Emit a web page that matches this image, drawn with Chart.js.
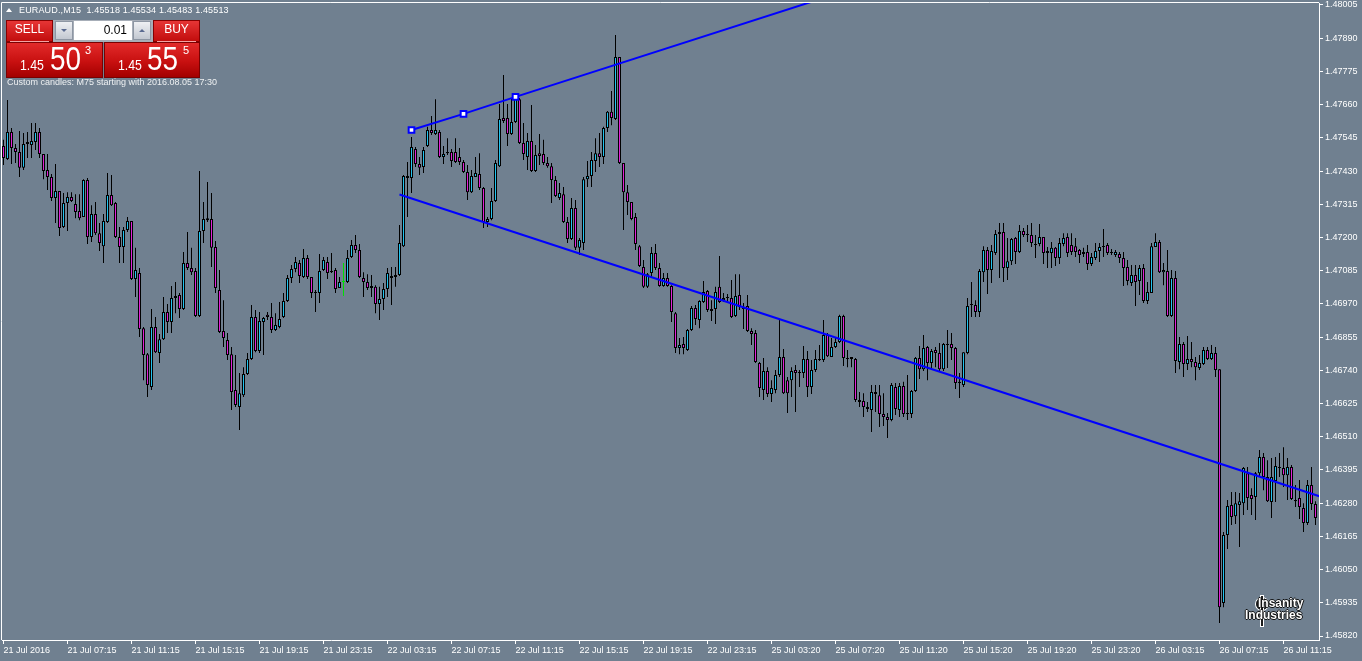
<!DOCTYPE html>
<html>
<head>
<meta charset="utf-8">
<title>EURAUD M15</title>
<script src="https://cdn.jsdelivr.net/npm/chart.js@4.4.1/dist/chart.umd.min.js"></script>
<style>
  html, body { margin:0; padding:0; background:#708090; overflow:hidden; }
  #wrap { position:relative; width:1362px; height:661px; background:#708090; }
  #chart { position:absolute; left:0; top:0; }
  .t { position:absolute; font-family:"Liberation Sans", Arial, sans-serif; white-space:nowrap; color:#fff; }
  .box { position:absolute; box-sizing:border-box; }
  .red { background:linear-gradient(#e63535, #c20d0d); border:1px solid #860000; }
  .big { background:linear-gradient(#e22a2a 0%, #c81010 55%, #a30000 100%); border:1px solid #7a0000; }
  .btn { background:linear-gradient(#eef0f3, #c3c8d1); border:1px solid #8d96a3; }
  .narrow { transform:scaleX(0.82); transform-origin:left top; }
  .mark { color:#fff; text-shadow:-1px 0 #111, 1px 0 #111, 0 -1px #111, 0 1px #111; font-weight:bold; }
</style>
</head>
<body>
<div id="wrap">
  <canvas id="chart" width="1362" height="661"></canvas>

  <!-- header -->
  <div class="box" style="left:6px;top:8px;width:0;height:0;border-left:3px solid transparent;border-right:3px solid transparent;border-bottom:4px solid #fff"></div>
  <div class="t" style="left:19px;top:5px;font-size:9px;line-height:11px;letter-spacing:0.15px">EURAUD.,M15&nbsp; 1.45518 1.45534 1.45483 1.45513</div>

  <!-- one click trading panel -->
  <div class="box red" style="left:6px;top:20px;width:47px;height:22px"></div>
  <div class="t" style="left:6px;top:23px;width:47px;text-align:center;font-size:12px;line-height:13px">SELL</div>
  <div class="box" style="left:10px;top:41px;width:39px;height:1px;background:#f3a3a3"></div>
  <div class="box" style="left:53px;top:20px;width:100px;height:22px;background:#a7aeb8"></div>
  <div class="box btn" style="left:55px;top:21px;width:18px;height:19px"></div>
  <div class="box" style="left:61px;top:29px;width:0;height:0;border-left:3px solid transparent;border-right:3px solid transparent;border-top:3px solid #5a6a90"></div>
  <div class="box" style="left:74px;top:21px;width:58px;height:19px;background:#fff"></div>
  <div class="t" style="left:74px;top:23px;width:53px;text-align:right;font-size:12px;line-height:14px;color:#000">0.01</div>
  <div class="box btn" style="left:133px;top:21px;width:18px;height:19px"></div>
  <div class="box" style="left:139px;top:29px;width:0;height:0;border-left:3px solid transparent;border-right:3px solid transparent;border-bottom:3px solid #5a6a90"></div>
  <div class="box red" style="left:153px;top:20px;width:47px;height:22px"></div>
  <div class="t" style="left:153px;top:23px;width:47px;text-align:center;font-size:12px;line-height:13px">BUY</div>
  <div class="box" style="left:157px;top:41px;width:39px;height:1px;background:#f3a3a3"></div>

  <div class="box big" style="left:6px;top:42px;width:97px;height:36px"></div>
  <div class="t narrow" style="left:20px;top:57px;font-size:15px;line-height:15px">1.45</div>
  <div class="t narrow" style="left:50px;top:41px;font-size:34px;line-height:34px">50</div>
  <div class="t" style="left:85px;top:45px;font-size:11px;line-height:11px">3</div>
  <div class="box big" style="left:104px;top:42px;width:96px;height:36px"></div>
  <div class="t narrow" style="left:118px;top:57px;font-size:15px;line-height:15px">1.45</div>
  <div class="t narrow" style="left:147px;top:41px;font-size:34px;line-height:34px">55</div>
  <div class="t" style="left:183px;top:45px;font-size:11px;line-height:11px">5</div>

  <div class="t" style="left:7px;top:77px;font-size:9px;line-height:11px;color:#eef0f2">Custom candles: M75 starting with 2016.08.05 17:30</div>

  <!-- watermark -->
  <div class="box" style="left:1256px;top:598px;width:12px;height:12px;border:2px solid #1a1a1a;border-radius:50%;box-shadow:0 0 0 1px #fff, inset 0 0 0 1px #fff"></div>
  <div class="box" style="left:1261px;top:596px;width:2px;height:30px;background:#1a1a1a;box-shadow:0 0 0 1px #fff"></div>
  <div class="t mark" style="left:1258px;top:597px;font-size:12px;line-height:12px">Insanity</div>
  <div class="t mark" style="left:1245px;top:609px;font-size:12px;line-height:12px">Industries</div>
</div>

<script>
// 15 minute candles, left to right
const opens = [
  1.47517,1.47472,1.47565,1.47510,1.47496,1.47441,1.47524,1.47520,1.47531,1.47565,
  1.47489,1.47434,1.47409,1.47337,1.47361,1.47236,1.47319,1.47340,1.47316,1.47292,
  1.47271,1.47399,1.47202,1.47281,1.47215,1.47170,1.47254,1.47347,1.47319,1.47202,
  1.47167,1.47226,1.47257,1.47056,1.47077,1.46886,1.46796,1.46682,1.46890,1.46800,
  1.46848,1.46942,1.46907,1.46990,1.47001,1.46952,1.47112,1.47094,1.47084,1.46928,
  1.47222,1.47260,1.47264,1.47167,1.47018,1.46876,1.46845,1.46796,1.46672,1.46613,
  1.46654,1.46727,1.46779,1.46925,1.46807,1.46907,1.46932,1.46925,1.46880,1.46890,
  1.46925,1.46980,1.47060,1.47091,1.47112,1.47063,1.47129,1.47063,1.47011,1.47008,
  1.47087,1.47115,1.47084,1.47087,1.47025,1.47046,1.47046,1.47132,1.47174,1.47157,
  1.47060,1.47046,1.47032,1.47029,1.46970,1.46987,1.47022,1.47067,1.47063,1.47070,
  1.47170,1.47406,1.47406,1.47506,1.47454,1.47444,1.47517,1.47572,1.47558,1.47565,
  1.47479,1.47496,1.47496,1.47496,1.47479,1.47461,1.47427,1.47357,1.47409,1.47420,
  1.47371,1.47254,1.47264,1.47326,1.47447,1.47614,1.47614,1.47558,1.47600,1.47679,
  1.47527,1.47479,1.47534,1.47430,1.47492,1.47489,1.47458,1.47447,1.47399,1.47337,
  1.47350,1.47254,1.47195,1.47302,1.47164,1.47181,1.47402,1.47413,1.47465,1.47492,
  1.47479,1.47579,1.47635,1.47610,1.47825,1.47458,1.47357,1.47323,1.47271,1.47170,
  1.47098,1.47029,1.47077,1.47146,1.47094,1.47032,1.47060,1.47032,1.46938,1.46817,
  1.46831,1.46810,1.46880,1.46956,1.46914,1.46977,1.47015,1.46945,1.46952,1.47029,
  1.46983,1.46990,1.46990,1.46928,1.47001,1.46959,1.46963,1.46876,1.46869,1.46765,
  1.46672,1.46738,1.46658,1.46672,1.46724,1.46786,1.46706,1.46706,1.46741,1.46731,
  1.46731,1.46779,1.46682,1.46741,1.46776,1.46776,1.46862,1.46786,1.46821,1.46838,
  1.46928,1.46779,1.46786,1.46779,1.46637,1.46634,1.46613,1.46603,1.46665,1.46654,
  1.46589,1.46578,1.46568,1.46682,1.46603,1.46686,1.46589,1.46589,1.46668,1.46783,
  1.46744,1.46821,1.46765,1.46810,1.46800,1.46744,1.46828,1.46831,1.46817,1.46696,
  1.46689,1.46800,1.46970,1.46966,1.46942,1.47080,1.47157,1.47087,1.47146,1.47212,
  1.47219,1.47094,1.47118,1.47198,1.47150,1.47222,1.47209,1.47209,1.47174,1.47177,
  1.47202,1.47146,1.47146,1.47164,1.47129,1.47177,1.47202,1.47174,1.47170,1.47157,
  1.47143,1.47150,1.47108,1.47129,1.47153,1.47167,1.47174,1.47150,1.47139,1.47143,
  1.47129,1.47098,1.47042,1.47070,1.47049,1.47094,1.46980,1.47008,1.47167,1.47184,
  1.47080,1.47084,1.46928,1.47060,1.46769,1.46831,1.46762,1.46779,1.46769,1.46748,
  1.46762,1.46810,1.46779,1.46800,1.46744,1.45934,1.46170,1.46274,1.46235,1.46274,
  1.46280,1.46384,1.46308,1.46301,1.46384,1.46440,1.46371,1.46284,1.46357,1.46402,
  1.46402,1.46377,1.46405,1.46291,1.46298,1.46263,1.46211,1.46343,1.46277
];
const highs = [
  1.47538,1.47676,1.47579,1.47524,1.47569,1.47562,1.47565,1.47596,1.47596,1.47579,
  1.47489,1.47489,1.47420,1.47454,1.47361,1.47354,1.47357,1.47357,1.47350,1.47350,
  1.47402,1.47406,1.47312,1.47323,1.47250,1.47281,1.47423,1.47416,1.47323,1.47236,
  1.47236,1.47271,1.47257,1.47164,1.47094,1.46890,1.46800,1.46952,1.46925,1.46866,
  1.46994,1.46970,1.47032,1.47046,1.47008,1.47150,1.47219,1.47164,1.47094,1.47430,
  1.47323,1.47392,1.47354,1.47188,1.47087,1.46983,1.46869,1.46821,1.46793,1.46731,
  1.46751,1.46800,1.46966,1.46949,1.46942,1.46925,1.46942,1.46973,1.46938,1.46977,
  1.47008,1.47070,1.47105,1.47132,1.47122,1.47160,1.47139,1.47063,1.47018,1.47143,
  1.47132,1.47132,1.47146,1.47094,1.47063,1.47112,1.47157,1.47191,1.47209,1.47177,
  1.47080,1.47073,1.47070,1.47035,1.47029,1.47042,1.47094,1.47098,1.47098,1.47243,
  1.47416,1.47461,1.47548,1.47513,1.47479,1.47513,1.47583,1.47621,1.47679,1.47572,
  1.47517,1.47544,1.47506,1.47544,1.47510,1.47468,1.47451,1.47434,1.47479,1.47492,
  1.47375,1.47271,1.47371,1.47468,1.47662,1.47763,1.47662,1.47683,1.47693,1.47683,
  1.47596,1.47562,1.47659,1.47520,1.47558,1.47538,1.47479,1.47458,1.47413,1.47389,
  1.47375,1.47271,1.47337,1.47330,1.47198,1.47409,1.47465,1.47496,1.47544,1.47562,
  1.47583,1.47638,1.47707,1.47901,1.47825,1.47458,1.47382,1.47323,1.47285,1.47174,
  1.47122,1.47077,1.47167,1.47177,1.47112,1.47077,1.47077,1.47035,1.46942,1.46852,
  1.46855,1.46883,1.46963,1.46966,1.46983,1.47049,1.47018,1.46983,1.47029,1.47136,
  1.47008,1.47004,1.47053,1.47073,1.47073,1.46973,1.47001,1.46886,1.46880,1.46769,
  1.46783,1.46751,1.46706,1.46741,1.46914,1.46814,1.46717,1.46751,1.46758,1.46741,
  1.46824,1.46807,1.46776,1.46810,1.46828,1.46914,1.46869,1.46852,1.46852,1.46932,
  1.46932,1.46810,1.46786,1.46783,1.46665,1.46661,1.46630,1.46689,1.46689,1.46689,
  1.46661,1.46592,1.46696,1.46696,1.46696,1.46700,1.46724,1.46672,1.46786,1.46824,
  1.46862,1.46824,1.46814,1.46821,1.46835,1.46835,1.46880,1.46869,1.46821,1.46731,
  1.46803,1.46990,1.47046,1.46983,1.47091,1.47170,1.47167,1.47174,1.47226,1.47250,
  1.47250,1.47198,1.47198,1.47202,1.47243,1.47233,1.47243,1.47250,1.47209,1.47247,
  1.47202,1.47167,1.47184,1.47167,1.47198,1.47215,1.47215,1.47215,1.47198,1.47160,
  1.47164,1.47174,1.47146,1.47181,1.47181,1.47229,1.47181,1.47160,1.47157,1.47150,
  1.47150,1.47122,1.47105,1.47105,1.47105,1.47108,1.47046,1.47181,1.47215,1.47191,
  1.47112,1.47157,1.47087,1.47084,1.46855,1.46838,1.46859,1.46838,1.46786,1.46793,
  1.46821,1.46821,1.46828,1.46821,1.46744,1.46180,1.46291,1.46319,1.46319,1.46315,
  1.46405,1.46405,1.46332,1.46388,1.46464,1.46454,1.46429,1.46436,1.46440,1.46454,
  1.46474,1.46436,1.46412,1.46343,1.46360,1.46280,1.46360,1.46405,1.46287
];
const lows = [
  1.47451,1.47468,1.47454,1.47458,1.47409,1.47434,1.47475,1.47475,1.47503,1.47475,
  1.47402,1.47364,1.47326,1.47250,1.47205,1.47233,1.47222,1.47323,1.47267,1.47260,
  1.47271,1.47177,1.47184,1.47209,1.47153,1.47112,1.47250,1.47309,1.47198,1.47112,
  1.47112,1.47219,1.47053,1.46994,1.46855,1.46706,1.46648,1.46672,1.46800,1.46765,
  1.46845,1.46869,1.46869,1.46938,1.46921,1.46949,1.47087,1.47070,1.46925,1.46925,
  1.47181,1.47254,1.47098,1.47008,1.46869,1.46821,1.46776,1.46603,1.46613,1.46533,
  1.46648,1.46724,1.46776,1.46803,1.46800,1.46793,1.46914,1.46869,1.46876,1.46886,
  1.46921,1.46977,1.47042,1.47080,1.47042,1.47060,1.47056,1.46990,1.46942,1.46973,
  1.47084,1.47056,1.47077,1.47008,1.47025,1.46997,1.47042,1.47129,1.47146,1.47060,
  1.46994,1.47018,1.46994,1.46938,1.46914,1.46949,1.46994,1.46966,1.47029,1.47067,
  1.47167,1.47271,1.47354,1.47444,1.47416,1.47423,1.47513,1.47555,1.47555,1.47475,
  1.47454,1.47486,1.47444,1.47458,1.47451,1.47423,1.47330,1.47354,1.47409,1.47364,
  1.47233,1.47236,1.47260,1.47323,1.47444,1.47596,1.47517,1.47555,1.47596,1.47524,
  1.47468,1.47434,1.47427,1.47427,1.47451,1.47451,1.47441,1.47319,1.47340,1.47330,
  1.47250,1.47181,1.47191,1.47157,1.47139,1.47157,1.47375,1.47375,1.47427,1.47444,
  1.47454,1.47565,1.47589,1.47607,1.47454,1.47226,1.47278,1.47260,1.47157,1.47098,
  1.47025,1.47025,1.47063,1.47087,1.47029,1.47029,1.47029,1.46907,1.46800,1.46796,
  1.46796,1.46807,1.46876,1.46897,1.46886,1.46973,1.46942,1.46911,1.46900,1.46973,
  1.46977,1.46973,1.46921,1.46925,1.46949,1.46883,1.46873,1.46828,1.46765,1.46648,
  1.46637,1.46648,1.46630,1.46661,1.46717,1.46658,1.46592,1.46648,1.46596,1.46682,
  1.46713,1.46648,1.46658,1.46734,1.46772,1.46769,1.46786,1.46786,1.46817,1.46835,
  1.46755,1.46751,1.46751,1.46630,1.46613,1.46578,1.46596,1.46526,1.46596,1.46544,
  1.46547,1.46506,1.46564,1.46585,1.46578,1.46578,1.46568,1.46575,1.46665,1.46710,
  1.46738,1.46706,1.46748,1.46751,1.46734,1.46738,1.46748,1.46776,1.46675,1.46644,
  1.46682,1.46796,1.46925,1.46925,1.46925,1.47046,1.47004,1.47042,1.47139,1.47060,
  1.47046,1.47053,1.47105,1.47108,1.47146,1.47202,1.47184,1.47167,1.47129,1.47170,
  1.47108,1.47094,1.47094,1.47101,1.47108,1.47170,1.47132,1.47139,1.47132,1.47112,
  1.47132,1.47087,1.47101,1.47122,1.47115,1.47132,1.47139,1.47139,1.47132,1.47112,
  1.47032,1.47035,1.47032,1.46963,1.47001,1.46973,1.46970,1.47008,1.47167,1.47077,
  1.47035,1.46925,1.46925,1.46731,1.46744,1.46717,1.46741,1.46751,1.46706,1.46741,
  1.46758,1.46776,1.46776,1.46717,1.45865,1.45920,1.46121,1.46204,1.46208,1.46128,
  1.46239,1.46256,1.46239,1.46222,1.46371,1.46325,1.46284,1.46229,1.46284,1.46371,
  1.46336,1.46291,1.46291,1.46267,1.46225,1.46180,1.46204,1.46256,1.46204
];
const closes = [
  1.47475,1.47565,1.47510,1.47496,1.47441,1.47524,1.47531,1.47534,1.47565,1.47489,
  1.47430,1.47409,1.47337,1.47361,1.47233,1.47319,1.47340,1.47326,1.47288,1.47267,
  1.47399,1.47202,1.47281,1.47215,1.47181,1.47257,1.47347,1.47312,1.47202,1.47167,
  1.47226,1.47257,1.47056,1.47087,1.46883,1.46793,1.46689,1.46890,1.46803,1.46848,
  1.46942,1.46907,1.46990,1.46997,1.46952,1.47112,1.47094,1.47080,1.46928,1.47222,
  1.47264,1.47267,1.47164,1.47025,1.46873,1.46852,1.46793,1.46665,1.46620,1.46661,
  1.46727,1.46779,1.46925,1.46807,1.46911,1.46921,1.46925,1.46880,1.46897,1.46918,
  1.46980,1.47060,1.47091,1.47115,1.47067,1.47129,1.47063,1.47008,1.47008,1.47084,
  1.47122,1.47077,1.47080,1.47022,1.47046,1.47046,1.47129,1.47174,1.47157,1.47063,
  1.47046,1.47025,1.47025,1.46970,1.46987,1.47022,1.47077,1.47060,1.47070,1.47181,
  1.47413,1.47413,1.47513,1.47454,1.47441,1.47503,1.47572,1.47562,1.47572,1.47479,
  1.47489,1.47492,1.47465,1.47461,1.47461,1.47427,1.47357,1.47413,1.47423,1.47371,
  1.47254,1.47264,1.47326,1.47458,1.47610,1.47603,1.47558,1.47600,1.47686,1.47527,
  1.47489,1.47534,1.47430,1.47486,1.47482,1.47458,1.47447,1.47399,1.47344,1.47354,
  1.47254,1.47195,1.47302,1.47164,1.47191,1.47402,1.47413,1.47468,1.47492,1.47479,
  1.47579,1.47635,1.47614,1.47825,1.47458,1.47357,1.47323,1.47264,1.47177,1.47101,
  1.47029,1.47073,1.47146,1.47094,1.47032,1.47060,1.47032,1.46942,1.46817,1.46828,
  1.46817,1.46880,1.46956,1.46918,1.46980,1.47011,1.46949,1.46952,1.47011,1.46977,
  1.46990,1.46994,1.46925,1.46997,1.46959,1.46952,1.46876,1.46866,1.46769,1.46679,
  1.46738,1.46658,1.46679,1.46724,1.46786,1.46661,1.46661,1.46738,1.46731,1.46734,
  1.46779,1.46682,1.46741,1.46779,1.46779,1.46862,1.46789,1.46821,1.46838,1.46928,
  1.46783,1.46783,1.46779,1.46637,1.46630,1.46613,1.46606,1.46665,1.46658,1.46589,
  1.46578,1.46568,1.46689,1.46606,1.46686,1.46589,1.46592,1.46668,1.46783,1.46744,
  1.46817,1.46765,1.46807,1.46800,1.46744,1.46831,1.46831,1.46817,1.46696,1.46700,
  1.46803,1.46963,1.46966,1.46942,1.47084,1.47157,1.47087,1.47153,1.47212,1.47219,
  1.47094,1.47118,1.47195,1.47150,1.47222,1.47209,1.47212,1.47181,1.47177,1.47202,
  1.47146,1.47153,1.47164,1.47129,1.47181,1.47198,1.47146,1.47150,1.47150,1.47139,
  1.47150,1.47108,1.47132,1.47153,1.47167,1.47170,1.47146,1.47146,1.47150,1.47129,
  1.47094,1.47049,1.47070,1.47046,1.47094,1.46980,1.47011,1.47170,1.47184,1.47080,
  1.47087,1.46928,1.47060,1.46772,1.46831,1.46762,1.46779,1.46769,1.46751,1.46765,
  1.46810,1.46779,1.46800,1.46741,1.45920,1.46170,1.46270,1.46232,1.46280,1.46287,
  1.46402,1.46298,1.46294,1.46384,1.46440,1.46371,1.46287,1.46371,1.46409,1.46405,
  1.46377,1.46405,1.46294,1.46287,1.46267,1.46211,1.46343,1.46277,1.46229
];

// time axis: one label every 16 bars
const timeLabels = ['21 Jul 2016','21 Jul 07:15','21 Jul 11:15','21 Jul 15:15','21 Jul 19:15','21 Jul 23:15',
  '22 Jul 03:15','22 Jul 07:15','22 Jul 11:15','22 Jul 15:15','22 Jul 19:15','22 Jul 23:15',
  '25 Jul 03:20','25 Jul 07:20','25 Jul 11:20','25 Jul 15:20','25 Jul 19:20','25 Jul 23:20',
  '26 Jul 03:15','26 Jul 07:15','26 Jul 11:15'];
const timeTickBars = [0,16,32,48,64,80,96,112,128,144,160,176,192,208,224,240,256,272,288,304,320];
const priceTicks = [1.45820,1.45935,1.46050,1.46165,1.46280,1.46395,1.46510,1.46625,1.46740,1.46855,
  1.46970,1.47085,1.47200,1.47315,1.47430,1.47545,1.47660,1.47775,1.47890,1.48005];

// trend lines (bar index, price)
const upperTrendX = [102, 115, 128, 202];
const upperTrendY = [1.47572, 1.47628, 1.47687, 1.48016];
const lowerTrendX = [99, 329];
const lowerTrendY = [1.47349, 1.46304];

const BULL = '#22c4f0', BEAR = '#e022d8', DOJI = '#00e000', BLUE = '#0000ff', AXIS = '#ffffff';
const FONT = {family:'"Liberation Sans", Arial, sans-serif', size:9};

const idx = opens.map((_, i) => i);
const kind = idx.map(i => closes[i] > opens[i] ? 1 : (closes[i] < opens[i] ? -1 : 0));
const wickData = idx.map(i => ({x: i, y: [lows[i], highs[i]]}));
const bodyData = idx.map(i => ({x: i, y: [opens[i], closes[i]]}));
const bodyFill = kind.map(k => k > 0 ? BULL : (k < 0 ? BEAR : DOJI));
const edge = kind.map(k => k === 0 ? DOJI : '#000');

// white frame on the left and top of the plot
const frame = {
  id: 'frame',
  afterDraw(chart){
    const {ctx, chartArea:a} = chart;
    ctx.save();
    ctx.strokeStyle = AXIS; ctx.lineWidth = 1;
    ctx.beginPath();
    ctx.moveTo(a.left - 0.5, a.bottom); ctx.lineTo(a.left - 0.5, a.top - 0.5); ctx.lineTo(a.right, a.top - 0.5);
    ctx.stroke();
    ctx.restore();
  }
};

// keep the plot area fixed: no label overhang padding
function noPad(s){ s.paddingLeft = 0; s.paddingRight = 0; s.paddingTop = 0; s.paddingBottom = 0; }

new Chart(document.getElementById('chart'), {
  type: 'bar',
  data: {
    datasets: [
      { type:'line', data: upperTrendX.map((x, i) => ({x, y: upperTrendY[i]})), borderColor: BLUE, borderWidth: 2,
        pointStyle:'rect', pointRadius:[4,4,4,0], pointBorderWidth:2, pointBackgroundColor:'#fff', pointBorderColor: BLUE,
        tension:0, fill:false, order:0 },
      { type:'line', data: lowerTrendX.map((x, i) => ({x, y: lowerTrendY[i]})), borderColor: BLUE, borderWidth: 2,
        pointRadius:0, tension:0, fill:false, order:0 },
      { data: bodyData, backgroundColor: bodyFill, borderColor: edge, borderWidth: 1, borderSkipped: false,
        barThickness: 3, minBarLength: 1, grouped: false, inflateAmount: 0, order: 1 },
      { data: wickData, backgroundColor: edge, borderWidth: 0, barThickness: 1, grouped: false, inflateAmount: 0, order: 2 }
    ]
  },
  options: {
    responsive: false,
    devicePixelRatio: 1,
    animation: false,
    events: [],
    layout: { autoPadding: false, padding: { left: 2, top: 3, right: 0, bottom: 0 } },
    plugins: { legend: { display: false }, tooltip: { enabled: false } },
    scales: {
      x: {
        type: 'linear', min: -0.375, max: 328.875, offset: false,
        grid: { offset: false, drawOnChartArea: false, color: AXIS, tickLength: 4 },
        border: { color: AXIS },
        afterBuildTicks: s => { s.ticks = timeTickBars.map(v => ({value: v})); },
        afterFit: s => { s.height = 21; noPad(s); },
        ticks: { autoSkip: false, maxRotation: 0, align: 'start', color: AXIS, font: FONT, padding: 1,
          callback: (v, i) => timeLabels[i] }
      },
      y: {
        position: 'right', min: 1.458062, max: 1.480119, beginAtZero: false,
        grid: { drawOnChartArea: false, color: AXIS, tickLength: 4 },
        border: { color: AXIS },
        afterBuildTicks: s => { s.ticks = priceTicks.map(v => ({value: v})); },
        afterFit: s => { s.width = 43; noPad(s); },
        ticks: { autoSkip: false, color: AXIS, font: FONT, padding: 2, callback: v => v.toFixed(5) }
      }
    }
  },
  plugins: [frame]
});
</script>
</body>
</html>
